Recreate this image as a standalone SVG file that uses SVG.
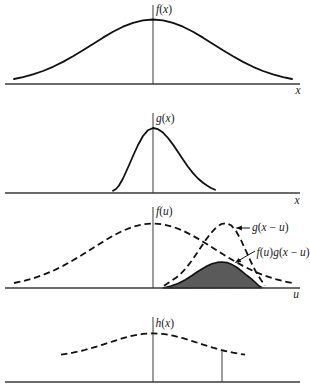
<svg xmlns="http://www.w3.org/2000/svg" width="310" height="388" viewBox="0 0 310 388">
<defs>
<style>
.axis{stroke:#3a3a3a;stroke-width:1.3;fill:none}
.vert{stroke:#3a3a3a;stroke-width:1;fill:none}
.solid{stroke:#111;stroke-width:1.8;fill:none;stroke-linejoin:round;stroke-linecap:round}
.dash{stroke:#111;stroke-width:1.8;fill:none;stroke-dasharray:6.5 3.8;stroke-linejoin:round}
.shade{fill:#5a5a5a;stroke:#111;stroke-width:1.6;stroke-linejoin:round}
.lbl{font-family:"Liberation Serif","DejaVu Serif",serif;font-style:italic;font-size:11.5px;fill:#1a1a1a}
.up{font-style:normal}
.lead{stroke:#111;stroke-width:1;fill:none}
</style>
<marker id="ah" viewBox="0 0 10 10" refX="9" refY="5" markerWidth="6" markerHeight="6" markerUnits="userSpaceOnUse" orient="auto">
<path d="M0,1 L10,5 L0,9 z" fill="#111"/>
</marker>
</defs>

<g id="panel-f">
<line class="axis" x1="5" y1="84" x2="300" y2="84"/>
<line class="vert" x1="153" y1="5" x2="153" y2="84"/>
<path class="solid" d="M14,79 L23,77.1 L33,74.4 L43,71 L53,66.8 L63,61.9 L73,56.3 L83,50.3 L93,43.9 L103,37.65 L113,31.8 L123,26.7 L133,22.8 L143,20.3 L153,19.5 L163,20.3 L173,22.8 L183,26.7 L193,31.8 L203,37.65 L213,43.9 L223,50.3 L233,56.3 L243,61.9 L253,66.8 L263,71 L273,74.4 L283,77.1 L292,79"/>
<text class="lbl" x="156" y="13">f<tspan class="up">(</tspan>x<tspan class="up">)</tspan></text>
<text class="lbl" x="298" y="94" text-anchor="middle">x</text>
</g>

<g id="panel-g">
<line class="axis" x1="5" y1="193" x2="300" y2="193"/>
<line class="vert" x1="153" y1="113" x2="153" y2="193"/>
<path class="solid" d="M113,190.8 L116,189 L119,185.5 L123,178.5 L128,167.5 L133,156 L138,145 L143,136 L148,130.2 L153,128 L158,129.2 L163,132.6 L168,138 L173,144.6 L178,152.1 L183,159.6 L188,166.7 L193,173.1 L198,178.5 L203,182.8 L207,185.6 L211,188 L215,189.8"/>
<text class="lbl" x="156" y="122">g<tspan class="up">(</tspan>x<tspan class="up">)</tspan></text>
<text class="lbl" x="297" y="203.5" text-anchor="middle">x</text>
</g>

<g id="panel-conv">
<path class="shade" d="M163,288 L171,286 L178,283.5 L185,280 L192,275.5 L197,272 L202,269 L207,266 L212,263.7 L217,262.4 L222,262 L227,262.6 L232,264.6 L237,267.5 L242,271.4 L247,275.5 L252,279.4 L256,283 L259,286 L262,287.7 Z"/>
<line class="axis" x1="5" y1="288" x2="300" y2="288"/>
<line class="vert" x1="153" y1="207" x2="153" y2="288"/>
<path class="dash" d="M14,283 L23,281.1 L33,278.4 L43,275 L53,270.8 L63,265.9 L73,260.3 L83,254.3 L93,247.9 L103,241.65 L113,235.8 L123,230.7 L133,226.8 L143,224.3 L153,223.5 L163,224.3 L173,226.8 L183,230.7 L193,235.8 L203,241.65 L213,247.9 L223,254.3 L233,260.3 L243,265.9 L253,270.8 L263,275 L273,278.4 L283,281.1 L292,283"/>
<path class="dash" d="M164,285.8 L171,281.1 L176,277.8 L181,273.5 L186,268.1 L191,261.7 L196,254.6 L201,247.1 L206,239.6 L211,233 L216,227.6 L221,224.2 L226,223 L231,225.2 L236,231 L241,240 L246,251 L251,262 L256,272 L261,280 L265,285.5"/>
<text class="lbl" x="156" y="215">f<tspan class="up">(</tspan>u<tspan class="up">)</tspan></text>
<text class="lbl" x="252" y="231">g<tspan class="up">(</tspan>x<tspan class="up"> − </tspan>u<tspan class="up">)</tspan></text>
<text class="lbl" x="256.5" y="256">f<tspan class="up">(</tspan>u<tspan class="up">)</tspan>g<tspan class="up">(</tspan>x<tspan class="up"> − </tspan>u<tspan class="up">)</tspan></text>
<text class="lbl" x="296" y="298" text-anchor="middle">u</text>
</g>

<g id="panel-h">
<line class="axis" x1="5" y1="382" x2="300" y2="382"/>
<line class="vert" x1="153" y1="317" x2="153" y2="382"/>
<line class="vert" x1="222" y1="350" x2="222" y2="382"/>
<path class="dash" d="M61,354.7 L73,352.7 L83,350.5 L93,347.7 L103,344.6 L113,341.3 L123,338.2 L133,335.6 L143,333.9 L153,333.3 L163,333.9 L173,335.6 L183,338.2 L193,341.3 L203,344.6 L213,347.7 L223,350.5 L233,352.7 L245,354.7"/>
<text class="lbl" x="155.5" y="326.5">h<tspan class="up">(</tspan>x<tspan class="up">)</tspan></text>
</g>

<g id="connectors">
<line class="lead" x1="250" y1="228" x2="236.5" y2="228" marker-end="url(#ah)"/>
<line class="lead" x1="255" y1="251" x2="235.5" y2="262.5" marker-end="url(#ah)"/>
</g>
</svg>
